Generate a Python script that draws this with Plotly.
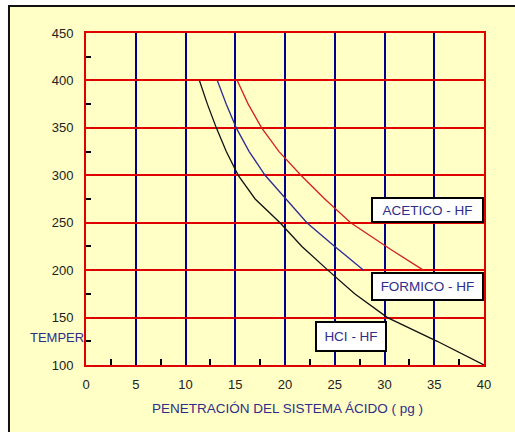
import plotly.graph_objects as go

# Penetration (pg) vs temperature for each acid system
temp_hcl = [400, 375, 350, 325, 300, 275, 250, 225, 200, 175, 150, 125, 100]
pen_hcl = [11.4, 12.2, 13.1, 14.1, 15.3, 17.0, 19.5, 21.7, 24.3, 27.0, 30.3, 35.3, 40.0]

temp_formico = [400, 375, 350, 325, 300, 276, 250, 225, 200]
pen_formico = [13.2, 14.1, 15.1, 16.4, 18.0, 20.0, 22.2, 25.0, 27.9]

temp_acetico = [400, 375, 350, 325, 300, 275, 250, 222, 200]
pen_acetico = [15.2, 16.3, 17.65, 19.4, 21.6, 24.0, 26.6, 30.6, 33.9]

series_names = ["HCI - HF", "FORMICO - HF", "ACETICO - HF"]
series_colors = ["#111111", "#2B2B96", "#D42020"]

x_ticks = [0, 5, 10, 15, 20, 25, 30, 35, 40]
y_ticks = [100, 150, 200, 250, 300, 350, 400, 450]

label_navy = "#2E2E8A"
font_family = "Liberation Sans, Arial, sans-serif"

fig = go.Figure()
for xs, ys, name, col in zip(
    [pen_hcl, pen_formico, pen_acetico],
    [temp_hcl, temp_formico, temp_acetico],
    series_names,
    series_colors,
):
    fig.add_trace(go.Scatter(x=xs, y=ys, mode="lines", name=name,
                             line=dict(color=col, width=1.3),
                             hoverinfo="x+y+name"))

# Boxed series labels
label_specs = [
    ("ACETICO - HF", 34.3, 263.4, 109, 22),
    ("FORMICO - HF", 34.3, 182.7, 109, 25),
    ("HCI - HF", 26.6, 130.0, 68, 27),
]
for text, lx, ly, w, h in label_specs:
    fig.add_annotation(x=lx, y=ly, xref="x", yref="y", text=text, showarrow=False,
                       font=dict(family=font_family, size=13.5, color=label_navy),
                       bgcolor="white", bordercolor="black", borderwidth=2,
                       borderpad=0, width=w, height=h, align="center")

# Axis titles
fig.add_annotation(x=-0.145, y=128.5, xref="paper", yref="y", text="TEMPER",
                   showarrow=False, xanchor="left", yanchor="middle",
                   font=dict(family=font_family, size=13, color=label_navy))
fig.add_annotation(x=0.507, y=-0.13, xref="paper", yref="paper",
                   text="PENETRACIÓN DEL SISTEMA ÁCIDO ( pg )", showarrow=False,
                   xanchor="center", yanchor="middle",
                   font=dict(family=font_family, size=13.5, color=label_navy))

# Yellow framed backdrop
fig.add_shape(type="rect", xref="paper", yref="paper",
              x0=-0.1935, x1=1.12, y0=-0.25, y1=1.0813,
              fillcolor="#FFFFC6", line=dict(color="#111111", width=2), layer="below")

fig.update_xaxes(range=[0, 40], tickvals=x_ticks, ticks="", showgrid=True,
                 gridcolor="#00008F", gridwidth=1.6, zeroline=False,
                 showline=True, linecolor="#E00000", linewidth=2, mirror=True,
                 tickfont=dict(family=font_family, size=13, color="#222222"),
                 ticklabelstandoff=6,
                 minor=dict(tickvals=[2.5, 7.5, 12.5, 17.5, 22.5, 27.5, 32.5, 37.5],
                            ticks="inside", ticklen=6, tickcolor="black", tickwidth=1.5))
fig.update_yaxes(range=[100, 450], tickvals=y_ticks, ticks="", showgrid=True,
                 gridcolor="#E00000", gridwidth=1.6, zeroline=False,
                 showline=True, linecolor="#E00000", linewidth=2, mirror=True,
                 tickfont=dict(family=font_family, size=13, color="#222222"),
                 ticklabelstandoff=8,
                 minor=dict(tickvals=[125, 175, 225, 275, 325, 375, 425],
                            ticks="inside", ticklen=5, tickcolor="black", tickwidth=1.5))

fig.update_layout(width=515, height=432, showlegend=False,
                  margin=dict(l=86, r=31, t=33, b=67),
                  paper_bgcolor="white", plot_bgcolor="white")

fig.write_html("out.html")
